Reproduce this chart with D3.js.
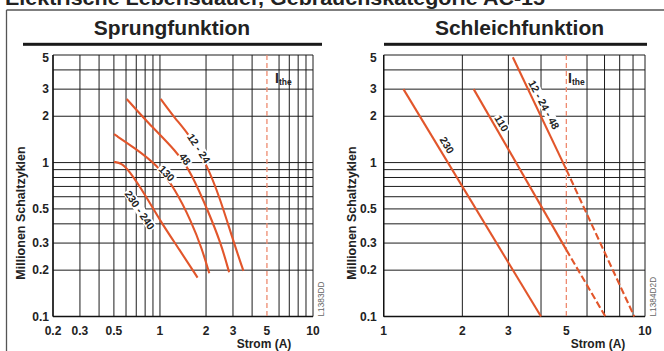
<!DOCTYPE html>
<html><head><meta charset="utf-8">
<script src="https://cdn.jsdelivr.net/npm/d3@7"></script>
<style>
body{margin:0;background:#fff}
svg{display:block}
text{font-family:"Liberation Sans",Arial,Helvetica,sans-serif}
</style>
</head><body>
<svg id="c" width="664" height="351"></svg>
<script>
// ---------- data ----------
const pageTitle = "Elektrische Lebensdauer, Gebrauchskategorie AC-15";
const panelTitles = ["Sprungfunktion", "Schleichfunktion"];
const yAxisTitle = "Millionen Schaltzyklen";
const xAxisTitle = "Strom (A)";
const drawingCodes = ["L1383DD", "L1384D2D"];

const yTickValues = [0.1, 0.2, 0.3, 0.5, 1, 2, 3, 5];
const yGridValues = [0.1, 0.2, 0.3, 0.4, 0.5, 0.6, 0.7, 0.8, 0.9, 1, 2, 3, 4, 5];
const leftXTicks = [0.2, 0.3, 0.5, 1, 2, 3, 5, 10];
const leftXGrid = [0.2, 0.3, 0.4, 0.5, 0.6, 0.7, 0.8, 0.9, 1, 2, 3, 4, 6, 7, 8, 9, 10];
const rightXTicks = [1, 2, 3, 5, 10];
const rightXGrid = [1, 2, 3, 4, 6, 7, 8, 9, 10];
const itheValue = 5;

// Sprungfunktion (current A, million cycles)
const sprungNames = ["12 - 24", "48", "130", "230 - 240"];
const sprung12_24 = [[1.01, 2.59], [1.25, 1.94], [1.53, 1.55], [2.0, 1.0], [2.47, 0.587], [3.02, 0.307], [3.51, 0.198]];
const sprung48 = [[0.606, 2.59], [0.84, 1.80], [1.29, 1.18], [1.61, 0.85], [2.07, 0.48], [2.50, 0.30], [2.83, 0.194]];
const sprung130 = [[0.501, 1.53], [0.687, 1.24], [0.953, 0.97], [1.25, 0.68], [1.61, 0.41], [1.875, 0.278], [2.10, 0.191]];
const sprung230_240 = [[0.501, 1.01], [0.562, 0.99], [0.621, 0.90], [0.80, 0.62], [1.0, 0.42], [1.32, 0.278], [1.76, 0.179]];
const sprungLabelX = [1.80, 1.46, 1.11, 0.74];
const sprungLabelY = [1.24, 1.057, 0.853, 0.493];

// Schleichfunktion
const schleichNames = ["230", "110", "12 - 24 - 48"];
const schleich230 = [[1.19, 3.0], [4.0, 0.1]];
const schleich110 = [[2.21, 3.0], [5.0, 0.271]];
const schleich110Ext = [[5.0, 0.271], [7.05, 0.1]];
const schleich12_48 = [[3.12, 4.83], [5.0, 0.9]];
const schleich12_48Ext = [[5.0, 0.9], [9.1, 0.1]];
const schleichLabelX = [1.75, 2.83, 4.11];
const schleichLabelY = [1.30, 1.80, 2.38];

// ---------- drawing ----------
const svg = d3.select("#c");
const RED = "#e2562b", RED_LIGHT = "#ee8b6f", GRID = "#1c1c1c";

svg.append("text").attr("x", 5).attr("y", 5)
  .attr("font-size", 21).attr("font-weight", "bold").attr("fill", "#222")
  .attr("textLength", 540).attr("lengthAdjust", "spacingAndGlyphs")
  .text(pageTitle);

// frame
svg.append("line").attr("x1", 6.5).attr("x2", 664).attr("y1", 10).attr("y2", 10)
  .attr("stroke", "#555").attr("stroke-width", 1.3);
svg.append("line").attr("x1", 6.5).attr("x2", 6.5).attr("y1", 10).attr("y2", 351)
  .attr("stroke", "#555").attr("stroke-width", 1.3);

function panel(cfg) {
  const g = svg.append("g");
  const x = d3.scaleLog().domain(cfg.xDomain).range([cfg.left, cfg.right]);
  const y = d3.scaleLog().domain([0.1, 5]).range([316.5, 55]);

  // title + bar
  g.append("text").attr("x", cfg.titleX).attr("y", 35).attr("text-anchor", "middle")
    .attr("font-size", 21).attr("font-weight", "bold").attr("fill", "#222").text(cfg.title);
  g.append("rect").attr("x", cfg.barX0).attr("y", 42.8).attr("width", cfg.barX1 - cfg.barX0)
    .attr("height", 3).attr("fill", "#1a1a1a");

  // grid
  g.selectAll(".hg").data(yGridValues).join("line")
    .attr("x1", cfg.left).attr("x2", cfg.right)
    .attr("y1", d => y(d)).attr("y2", d => y(d))
    .attr("stroke", GRID).attr("stroke-width", 1);
  g.selectAll(".vg").data(cfg.xGrid).join("line")
    .attr("x1", d => x(d)).attr("x2", d => x(d))
    .attr("y1", 55).attr("y2", 316.5)
    .attr("stroke", GRID).attr("stroke-width", 1);
  g.append("line").attr("x1", cfg.left).attr("x2", cfg.right).attr("y1", 316.5).attr("y2", 316.5)
    .attr("stroke", "#111").attr("stroke-width", 1.6);
  g.append("line").attr("x1", cfg.left).attr("x2", cfg.left).attr("y1", 55).attr("y2", 316.5)
    .attr("stroke", "#111").attr("stroke-width", 1.4);

  // Ithe line
  g.append("line").attr("x1", x(itheValue)).attr("x2", x(itheValue))
    .attr("y1", 55).attr("y2", 316.5)
    .attr("stroke", RED_LIGHT).attr("stroke-width", 1.3).attr("stroke-dasharray", "5,3");
  const it = g.append("text").attr("x", cfg.itheX).attr("y", 83)
    .attr("font-weight", "bold").attr("fill", "#222");
  it.append("tspan").attr("font-size", 14).text("I");
  it.append("tspan").attr("font-size", 8.5).attr("dy", 1.5).text("the");

  // tick labels
  g.selectAll(".yl").data(yTickValues).join("text")
    .attr("x", cfg.left - cfg.yLabGap).attr("y", d => y(d) + (d === 5 ? 3 : 0))
    .attr("text-anchor", "end").attr("dominant-baseline", "central")
    .attr("font-size", 12).attr("font-weight", "bold").attr("fill", "#222")
    .text(d => d);
  g.selectAll(".xl").data(cfg.xTicks).join("text")
    .attr("x", d => x(d)).attr("y", 335)
    .attr("text-anchor", "middle")
    .attr("font-size", 12).attr("font-weight", "bold").attr("fill", "#222")
    .text(d => d);

  g.append("text").attr("x", cfg.xTitleX).attr("y", 347.5).attr("text-anchor", "middle")
    .attr("font-size", 12).attr("font-weight", "bold").attr("fill", "#222").text(xAxisTitle);
  g.append("text").attr("transform", `translate(${cfg.yTitleX},213) rotate(-90)`)
    .attr("text-anchor", "middle").attr("font-size", 12.5).attr("font-weight", "bold")
    .attr("fill", "#222").text(yAxisTitle);
  g.append("text").attr("transform", `translate(${cfg.codeX},316.5) rotate(-90)`)
    .attr("font-size", 8.3).attr("fill", "#666").text(cfg.code);

  // curves
  const line = d3.line().x(d => x(d[0])).y(d => y(d[1])).curve(d3.curveBasis);
  cfg.solid.forEach(s => g.append("path").attr("d", line(s)).attr("fill", "none")
    .attr("stroke", RED).attr("stroke-width", 2.1).attr("stroke-linecap", "butt"));
  cfg.dashed.forEach(s => g.append("path").attr("d", line(s)).attr("fill", "none")
    .attr("stroke", RED).attr("stroke-width", 2.1).attr("stroke-dasharray", "7,3"));

  // curve labels
  cfg.names.forEach((n, i) => {
    const lg = g.append("g")
      .attr("transform", `translate(${x(cfg.labX[i])},${y(cfg.labY[i])}) rotate(${cfg.angles[i]})`);
    const rect = lg.append("rect").attr("fill", "#fff");
    const t = lg.append("text").attr("text-anchor", "middle").attr("dominant-baseline", "central")
      .attr("font-size", 10.5).attr("font-weight", "bold").attr("fill", "#222").text(n);
    const b = t.node().getBBox();
    rect.attr("x", b.x - 1).attr("y", b.y + 1).attr("width", b.width + 2).attr("height", b.height - 2);
  });
}

panel({
  title: panelTitles[0], titleX: 172, barX0: 23, barX1: 322,
  xDomain: [0.2, 10], left: 53, right: 313,
  xGrid: leftXGrid, xTicks: leftXTicks, itheX: 275, yLabGap: 4,
  xTitleX: 264, yTitleX: 25, codeX: 324, code: drawingCodes[0],
  solid: [sprung12_24, sprung48, sprung130, sprung230_240], dashed: [],
  names: sprungNames, labX: sprungLabelX, labY: sprungLabelY, angles: [57, 53, 46, 56]
});
panel({
  title: panelTitles[1], titleX: 519.5, barX0: 384, barX1: 647,
  xDomain: [1, 10], left: 383.7, right: 645,
  xGrid: rightXGrid, xTicks: rightXTicks, itheX: 568, yLabGap: 7,
  xTitleX: 598, yTitleX: 356, codeX: 656, code: drawingCodes[1],
  solid: [schleich230, schleich110, schleich12_48], dashed: [schleich110Ext, schleich12_48Ext],
  names: schleichNames, labX: schleichLabelX, labY: schleichLabelY, angles: [59, 59, 62]
});
</script>
</body></html>
